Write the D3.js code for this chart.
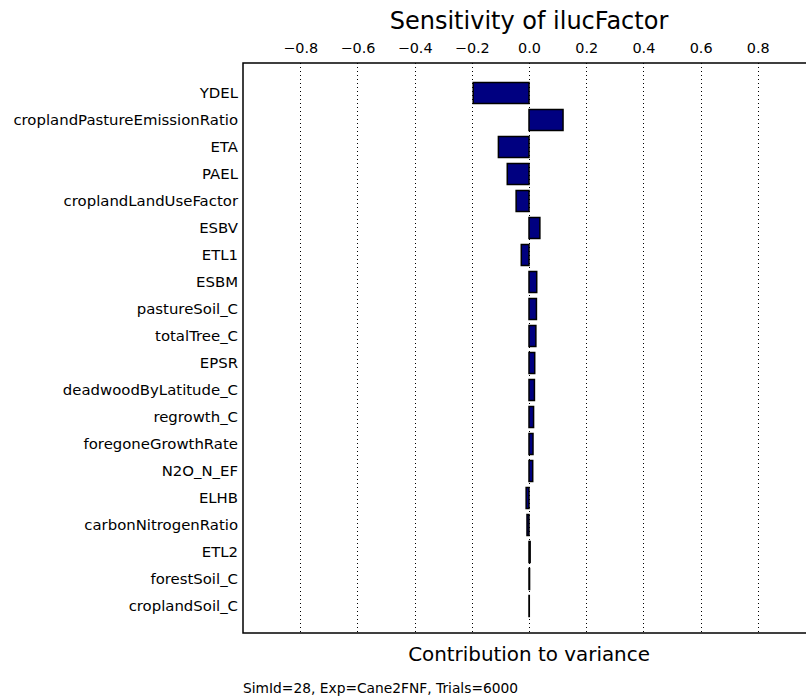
<!DOCTYPE html>
<html><head><meta charset="utf-8">
<script src="https://cdn.jsdelivr.net/npm/d3@7"></script>
<style>body{margin:0;background:#fff}svg{display:block;font-family:"DejaVu Sans",sans-serif}</style>
</head><body><svg id="c" width="806" height="698"></svg>
<script>
const categories = ["YDEL","croplandPastureEmissionRatio","ETA","PAEL","croplandLandUseFactor","ESBV","ETL1","ESBM","pastureSoil_C","totalTree_C","EPSR","deadwoodByLatitude_C","regrowth_C","foregoneGrowthRate","N2O_N_EF","ELHB","carbonNitrogenRatio","ETL2","forestSoil_C","croplandSoil_C"];
const values = [-0.195,0.119,-0.107,-0.076,-0.045,0.038,-0.027,0.027,0.026,0.024,0.020,0.019,0.016,0.014,0.013,-0.010,-0.007,0.004,0.002,0.001];
const tickValues = [-0.8,-0.6,-0.4,-0.2,0.0,0.2,0.4,0.6,0.8];
const titleText = "Sensitivity of ilucFactor";
const xLabel = "Contribution to variance";
const footer = "SimId=28, Exp=Cane2FNF, Trials=6000";

const svg = d3.select("#c");
const L=243, R=815, T=63, B=633;
const x = d3.scaleLinear().domain([-1,1]).range([L,R]);
const y = d3.scaleLinear().domain([-1.111,20]).range([T,B]);
const bh = 21;

// grid
svg.append("g").selectAll("line").data(tickValues).join("line")
  .attr("x1",d=>Math.round(x(d))+0.5).attr("x2",d=>Math.round(x(d))+0.5)
  .attr("y1",T).attr("y2",B)
  .attr("stroke","#000").attr("stroke-width",1).attr("stroke-dasharray","1,3");

// bars
svg.append("g").selectAll("rect").data(values).join("rect")
  .attr("x",d=>Math.min(x(0),x(d))).attr("width",d=>Math.abs(x(d)-x(0)))
  .attr("y",(d,i)=>y(i)-bh/2).attr("height",bh)
  .attr("fill","#000080").attr("stroke","#000").attr("stroke-width",1.5);

// frame
svg.append("rect").attr("x",L).attr("y",T).attr("width",R-L).attr("height",B-T)
  .attr("fill","none").attr("stroke","#000").attr("stroke-width",1.5);

// top axis
const ax = d3.axisTop(x).tickValues(tickValues).tickSize(0).tickPadding(10)
  .tickFormat(d=>d3.format(".1f")(d).replace("-","\u2212"));
const g = svg.append("g").attr("transform",`translate(0,${T})`).call(ax);
g.select(".domain").remove();
g.selectAll("text").attr("font-size",14.4).attr("font-family","DejaVu Sans").attr("fill","#000");

// y labels
svg.append("g").selectAll("text").data(categories).join("text")
  .attr("x",L-5).attr("y",(d,i)=>y(i)).attr("dy","0.35em")
  .attr("text-anchor","end").attr("font-size",14.9).text(d=>d);

svg.append("text").attr("x",529).attr("y",29).attr("text-anchor","middle")
  .attr("font-size",24).text(titleText);
svg.append("text").attr("x",529).attr("y",661).attr("text-anchor","middle")
  .attr("font-size",19.9).text(xLabel);
svg.append("text").attr("x",243).attr("y",693).attr("font-size",13.8).text(footer);
</script></body></html>
